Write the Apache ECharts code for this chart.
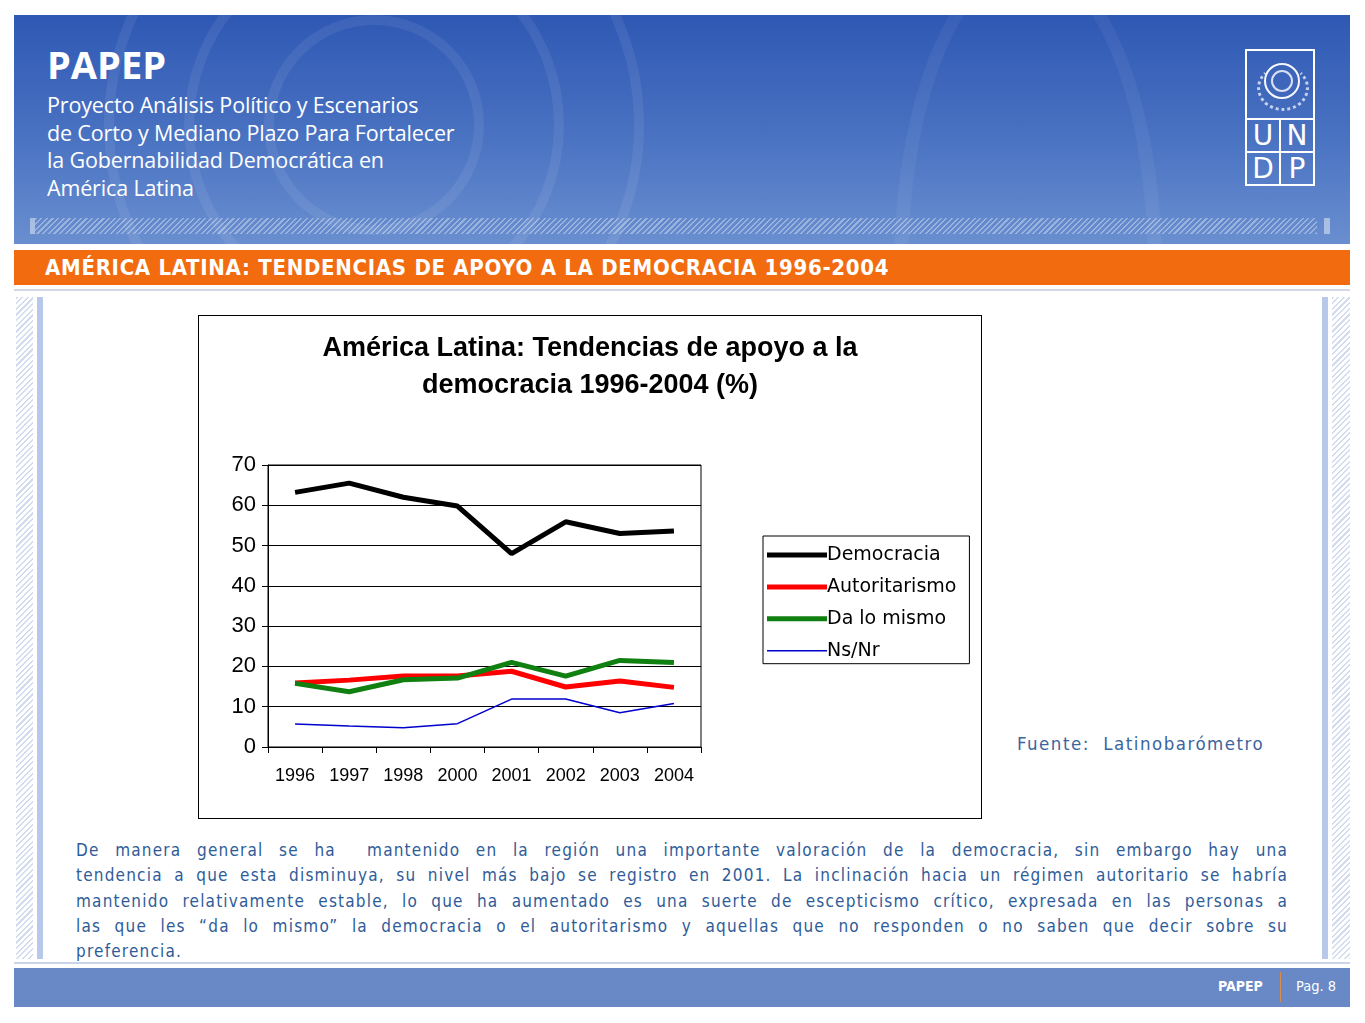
<!DOCTYPE html>
<html>
<head>
<meta charset="utf-8">
<script src="https://cdn.jsdelivr.net/npm/echarts@6/dist/echarts.min.js"></script>
<style>
html,body{margin:0;padding:0;background:#fff;width:1365px;height:1023px;overflow:hidden;position:relative;font-family:"Open Sans","Noto Sans",sans-serif;}
.abs{position:absolute;}
#header{left:14px;top:15px;width:1336px;height:229px;background:linear-gradient(180deg,#2f58b4 0%,#4a73c2 55%,#6a8fd0 100%);overflow:hidden;}
.ring{position:absolute;border-radius:50%;border:10px solid rgba(255,255,255,0.07);}
#hatchTop{left:35px;top:218px;width:1282px;height:16px;background:repeating-linear-gradient(135deg,rgba(255,255,255,0.35) 0 1.5px,rgba(255,255,255,0) 1.5px 4px);}
#papep{left:47px;top:38px;color:#fff;font-weight:700;font-size:38px;letter-spacing:0px;}
#sub{left:47px;top:91px;color:#fff;font-size:21.5px;line-height:27.5px;font-family:"Open Sans",sans-serif;letter-spacing:-0.15px;}
#orange{left:14px;top:250px;width:1336px;height:35px;background:#f26b0f;}
#otitle{left:45px;top:255px;color:#fff;font-weight:700;font-size:22px;font-family:"DejaVu Sans Condensed","DejaVu Sans",sans-serif;letter-spacing:0.7px;}
#grayline{left:14px;top:289px;width:1336px;height:2px;background:#d4d8e4;}
.vbar{background:#b8c8ea;}
.hatch{background:repeating-linear-gradient(135deg,#d3dbef 0 1.5px,#fff 1.5px 4px);}
#chartbox{left:198px;top:315px;width:782px;height:502px;border:1px solid #000;}
#chart{left:0;top:0;width:782px;height:502px;}
#fuente{left:1017px;top:733px;color:#3a659d;font-size:18.5px;font-family:"DejaVu Sans Condensed","DejaVu Sans",sans-serif;letter-spacing:1.5px;}
#para{left:76px;top:838px;width:1212px;color:#2f5c98;font-size:17px;line-height:25.3px;font-family:"DejaVu Sans Condensed","DejaVu Sans",sans-serif;letter-spacing:1.2px;}
#para span{display:block;text-align:justify;text-align-last:justify;white-space:nowrap;}
#para span.last{text-align-last:left;}
#botline{left:14px;top:962px;width:1336px;height:2px;background:#c9d3ea;}
#footer{left:14px;top:968px;width:1336px;height:39px;background:#6889c6;}
#fpapep{left:1218px;top:978px;color:#fff;font-weight:700;font-size:14px;font-family:"DejaVu Sans Condensed","DejaVu Sans",sans-serif;}
#fsep{left:1280px;top:972px;width:1px;height:30px;background:#d98b4a;}
#fpag{left:1296px;top:978px;color:#fff;font-size:14.5px;font-family:"DejaVu Sans Condensed","DejaVu Sans",sans-serif;}
#logo{left:1245px;top:49px;width:70px;height:137px;}
#logo .cell{position:absolute;border:2px solid #fff;box-sizing:border-box;color:#fff;font-size:28px;text-align:center;line-height:32px;font-family:"DejaVu Sans",sans-serif;}
</style>
</head>
<body>
<div id="header" class="abs">
  <div class="ring" style="left:90px;top:-160px;width:520px;height:520px;"></div>
  <div class="ring" style="left:170px;top:-80px;width:360px;height:360px;"></div>
  <div class="ring" style="left:250px;top:0px;width:200px;height:200px;"></div>
  <div class="ring" style="left:880px;top:-60px;width:240px;height:600px;border-width:14px;border-color:rgba(255,255,255,0.05);"></div>
</div>
<div class="abs" style="left:30px;top:218px;width:5px;height:16px;background:rgba(255,255,255,0.45);"></div>
<div id="hatchTop" class="abs"></div>
<div class="abs" style="left:1324px;top:218px;width:6px;height:16px;background:rgba(255,255,255,0.45);"></div>
<div id="papep" class="abs">PAPEP</div>
<div id="sub" class="abs">Proyecto Análisis Político y Escenarios<br>de Corto y Mediano Plazo Para Fortalecer<br>la Gobernabilidad Democrática en<br>América Latina</div>
<div id="logo" class="abs">
  <div class="cell" style="left:0;top:0;width:70px;height:71px;"></div>
  <div class="abs" style="left:19px;top:14px;width:32px;height:32px;border-radius:50%;border:2px solid rgba(255,255,255,0.95);"></div>
  <div class="abs" style="left:26px;top:21px;width:18px;height:18px;border-radius:50%;border:2px solid rgba(255,255,255,0.8);"></div>
  <div class="abs" style="left:12px;top:16px;width:46px;height:40px;border-radius:50%;border:3px dotted rgba(255,255,255,0.7);border-top-color:transparent;"></div>
  <div class="cell" style="left:0;top:69px;width:36px;height:35px;">U</div>
  <div class="cell" style="left:34px;top:69px;width:36px;height:35px;">N</div>
  <div class="cell" style="left:0;top:102px;width:36px;height:35px;">D</div>
  <div class="cell" style="left:34px;top:102px;width:36px;height:35px;">P</div>
</div>
<div id="orange" class="abs"></div>
<div id="otitle" class="abs">AMÉRICA LATINA: TENDENCIAS DE APOYO A LA DEMOCRACIA 1996-2004</div>
<div id="grayline" class="abs"></div>
<div class="abs hatch" style="left:16px;top:297px;width:17px;height:662px;"></div>
<div class="abs vbar" style="left:37px;top:297px;width:6px;height:662px;"></div>
<div class="abs vbar" style="left:1322px;top:297px;width:6px;height:662px;"></div>
<div class="abs hatch" style="left:1332px;top:297px;width:18px;height:662px;"></div>

<div id="chartbox" class="abs"><div id="chart" class="abs"></div></div>

<div id="fuente" class="abs">Fuente:&nbsp; Latinobarómetro</div>
<div id="para" class="abs">
<span>De manera general se ha&nbsp; mantenido en la región una importante valoración de la democracia, sin embargo hay una</span>
<span>tendencia a que esta disminuya, su nivel más bajo se registro en 2001. La inclinación hacia un régimen autoritario se habría</span>
<span>mantenido relativamente estable, lo que ha aumentado es una suerte de escepticismo crítico, expresada en las personas a</span>
<span>las que les “da lo mismo” la democracia o el autoritarismo y aquellas que no responden o no saben que decir sobre su</span>
<span class="last">preferencia.</span>
</div>
<div id="botline" class="abs"></div>
<div id="footer" class="abs"></div>
<div id="fpapep" class="abs">PAPEP</div>
<div id="fsep" class="abs"></div>
<div id="fpag" class="abs">Pag. 8</div>

<script>
var years = ['1996','1997','1998','2000','2001','2002','2003','2004'];
var democracia = [63.2, 65.5, 62.0, 59.8, 48.0, 55.9, 53.0, 53.6];
var autoritarismo = [15.9, 16.6, 17.6, 17.6, 18.8, 14.9, 16.4, 14.8];
var daLoMismo = [15.8, 13.7, 16.7, 17.1, 21.0, 17.6, 21.5, 21.0];
var nsNr = [5.7, 5.2, 4.8, 5.8, 11.9, 11.9, 8.5, 10.8];
var yTicks = [0, 10, 20, 30, 40, 50, 60, 70];
var seriesNames = ['Democracia','Autoritarismo','Da lo mismo','Ns/Nr'];

var chart = echarts.init(document.getElementById('chart'), null, {renderer:'canvas'});
function line(name, data, color, width){
  return {name:name, type:'line', data:data, symbol:'none', showSymbol:false,
    lineStyle:{color:color, width:width}, itemStyle:{color:color}, animation:false, z: width>2?3:2};
}
chart.setOption({
  animation:false,
  title:{text:'América Latina: Tendencias de apoyo a la\ndemocracia 1996-2004 (%)', left:'center', top:9,
    textStyle:{fontFamily:'"Liberation Sans Narrow","Liberation Sans",Arial,sans-serif', fontWeight:'bold', fontSize:27, lineHeight:37, color:'#000'}},
  grid:{left:69, top:149, width:433, height:282, show:true, borderColor:'#000', borderWidth:1, backgroundColor:'transparent'},
  legend:{orient:'vertical', left:564, top:220,
    data:[
      {name:seriesNames[0], icon:'path://M0,0h60v5h-60z'},
      {name:seriesNames[1], icon:'path://M0,0h60v5h-60z'},
      {name:seriesNames[2], icon:'path://M0,0h60v5h-60z'},
      {name:seriesNames[3], icon:'path://M0,0h60v1.5h-60z'}
    ],
    itemWidth:60, itemHeight:14, itemGap:11.9, padding:[9,13,3,4],
    borderColor:'#000', borderWidth:1, backgroundColor:'#fff',
    textStyle:{fontFamily:'"DejaVu Sans",sans-serif', fontSize:19, lineHeight:20, color:'#000', padding:[0,0,0,-5]}},
  xAxis:{type:'category', data:years, boundaryGap:true,
    axisLine:{lineStyle:{color:'#000', width:1}},
    axisTick:{show:true, length:6, lineStyle:{color:'#000'}},
    axisLabel:{color:'#000', fontFamily:'"Liberation Sans",Arial,sans-serif', fontSize:18, margin:20}},
  yAxis:{type:'value', min:0, max:70, interval:10,
    axisLine:{show:true, lineStyle:{color:'#000'}},
    axisTick:{show:true, length:6, lineStyle:{color:'#000'}},
    splitLine:{lineStyle:{color:'#000', width:1}},
    axisLabel:{color:'#000', fontFamily:'"Liberation Sans",Arial,sans-serif', fontSize:22, margin:12,
      formatter:function(v){ return yTicks.indexOf(v)>=0 ? String(v) : ''; }}},
  series:[
    line(seriesNames[0], democracia, '#000000', 5),
    line(seriesNames[1], autoritarismo, '#ff0000', 5),
    line(seriesNames[2], daLoMismo, '#108010', 5),
    line(seriesNames[3], nsNr, '#0000cc', 1.5)
  ]
});
</script>
</body>
</html>
